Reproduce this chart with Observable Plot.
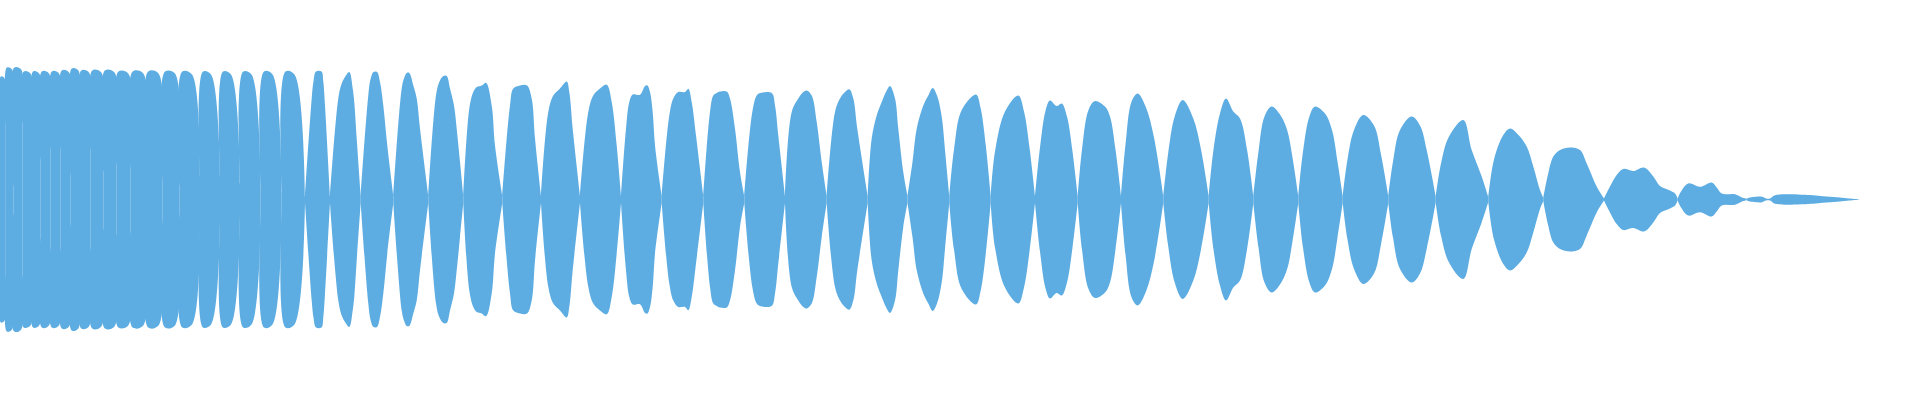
<!DOCTYPE html>
<html>
<head>
<meta charset="utf-8">
<script src="https://cdn.jsdelivr.net/npm/d3@7"></script>
<script src="https://cdn.jsdelivr.net/npm/@observablehq/plot@0.6"></script>
<style>
  html, body { margin: 0; padding: 0; background: #ffffff; }
  #chart svg { display: block; }
</style>
</head>
<body>
<div id="chart"></div>
<script>
// Positions (time axis) of the pinch points between lobes and the envelope amplitude there
const gapX = [0, 5.8, 13.3, 22.7, 32, 40.7, 50.7, 60.7, 70.7, 80,
  90.7, 103.3, 116.7, 130.7, 146, 162.7, 179.3, 200, 220, 240,
  260.7, 281.7, 305, 330, 360.7, 393.3, 428.3, 463.3, 502.3, 541,
  580, 621, 661.7, 703.3, 744.3, 785, 826.7, 867.7, 907.5, 949.3,
  990.7, 1035, 1077.7, 1121, 1163.3, 1208.7, 1253.3, 1298.3, 1342.7, 1388.3,
  1435.7, 1488.3, 1543.3, 1604, 1677.7, 1746.5, 1859];
const gapAmp = [20, 75, 13, 75, 62, 38, 48, 48, 23, 65,
  48, 28, 33, 31, 19, 19, 14, 18, 24, 16,
  11, 7, 3, 3.5, 3.5, 3.5, 3.5, 3.5, 3.5, 3.5,
  3.5, 3.5, 3.5, 3.5, 3.5, 3.5, 3.5, 3.5, 3.5, 3.5,
  3.5, 3.5, 3.5, 3.5, 3.5, 3.5, 3.5, 3.5, 3.5, 3.5,
  3, 2.5, 1.5, 1, 1, 0.8, 0.3];

// Envelope points inside the lobes: [time, amplitude]
const lobePoints = [
  [0.8, 123], [4.6, 121], [6.8, 132], [12, 130], [14.3, 132], [21.2, 130],
  [23.7, 128], [30.5, 126], [33, 128], [39.2, 126], [41.8, 128], [49, 126],
  [51.8, 128], [59, 126], [61.8, 129], [69, 127], [71.8, 131], [78.4, 129],
  [81.2, 129], [89, 127], [92.2, 129], [101.3, 127], [104.9, 129], [114.5, 127],
  [118.4, 128], [128.3, 126], [132.7, 128], [143.3, 126], [148.2, 128], [158.5, 126],
  [165, 128], [175, 126], [182.3, 128], [192, 125], [203, 128], [211, 125],
  [223, 128], [231, 125], [243.2, 128], [251.5, 125], [264, 128], [272.5, 125],
  [285.5, 128], [294.5, 125],
  [311.7, 101], [313.5, 118], [316, 128], [321.5, 128], [323.3, 118], [325, 94],
  [338.3, 101], [341.7, 116], [345, 122.5], [349.3, 127.5], [352.7, 111], [354.3, 97], [356.7, 61],
  [368.3, 104], [370.7, 121], [373.5, 127.5], [377, 127.5], [380, 117.5], [383.3, 94], [387.3, 54],
  [401.7, 111], [404, 121], [406.7, 126.5], [409.3, 126.5], [413.3, 114], [416.7, 101], [420, 70.8],
  [436, 104], [439.3, 117.5], [443.3, 123.5], [446.7, 123.5], [450, 111], [454, 94], [456.7, 70.8], [460, 37.5],
  [469.3, 91], [473.3, 107.5], [476.7, 112.5], [481.7, 114], [486, 116.8], [491.7, 94], [495, 54],
  [510, 94], [513.3, 111], [520, 114], [527, 114], [531.7, 101], [535, 61],
  [548.3, 87.5], [553.3, 104], [560, 111], [566.7, 118], [569.3, 107.5], [572.7, 70.8],
  [588.3, 87.5], [593.3, 104], [600, 111], [606.7, 114.8], [611.7, 97.5], [616.7, 54],
  [626, 70.8], [629.3, 97.5], [632.7, 105], [640, 104.8], [645, 113.5], [647.3, 114.2], [650, 107.5], [652.7, 87.5], [655, 54],
  [669.3, 84], [673.3, 101], [678.3, 107.5], [685, 107.5], [688.3, 110.8], [691.7, 97.5], [696, 64],
  [710, 87.5], [713.3, 104], [716.7, 106.5], [720, 108], [726.7, 108], [730, 101], [735, 70.8], [740, 27.5],
  [752.3, 87.5], [756.7, 104], [760, 106.5], [771.7, 106.5], [775, 94], [778.3, 64],
  [791.7, 87.5], [798.3, 101], [803.3, 107.5], [806.7, 109], [811.7, 104], [816.7, 77.5], [821.7, 37.5],
  [835, 87.5], [840, 101], [845, 107.5], [849.3, 110.2], [853.3, 101], [857.3, 70.8],
  [871.7, 61], [876.7, 84], [881.7, 97.5], [886.7, 109], [890, 113.5], [895, 101], [898.3, 70.8], [903.3, 27.5],
  [912.5, 37.5], [916.7, 70.8], [923.3, 94], [928.3, 104], [932.7, 111.5], [937, 104], [941.7, 83], [945, 49.5],
  [954, 50], [961.7, 89.5], [976, 105], [980.5, 92], [985.7, 55],
  [995, 48], [1005, 88], [1018.3, 104], [1024, 88], [1029.5, 52],
  [1040, 52], [1045.7, 89.5], [1050, 99], [1056.7, 93.5], [1061.7, 96], [1067, 83], [1072.5, 48],
  [1082, 50], [1088.5, 89.5], [1095, 98.5], [1105, 93], [1110, 83], [1115.5, 50],
  [1125.5, 55], [1131.6, 98], [1137.7, 106], [1146, 92], [1154, 62],
  [1168, 45], [1174.7, 83], [1182.7, 99.5], [1193.3, 81], [1201, 50],
  [1213.5, 50], [1220, 86], [1226, 101], [1233.3, 88], [1240, 81], [1247, 50],
  [1258.5, 48], [1264.5, 83], [1271.7, 93], [1280, 85], [1287, 70], [1292.5, 42],
  [1303, 48], [1309.4, 83], [1315, 93], [1325, 86], [1332, 69.5], [1337.5, 38],
  [1347.5, 40], [1354, 69.5], [1363.3, 84.5], [1374, 74], [1381, 45],
  [1393, 38], [1400, 69.5], [1411.7, 83], [1420, 74], [1427, 48],
  [1441, 36], [1449, 63], [1463.3, 79.5], [1471.7, 49.5], [1481.7, 23],
  [1494, 40], [1503.3, 64.5], [1510, 71], [1518, 65], [1526.7, 53], [1533.3, 33], [1540, 9.5],
  [1548, 25], [1553.3, 43], [1560, 49.5], [1570, 52], [1580, 49.5], [1586.7, 36], [1596.7, 13],
  [1616.7, 24.5], [1623.3, 30.5], [1633.3, 28.5], [1644, 32], [1653.3, 23], [1660, 13.5], [1670, 9], [1675, 6],
  [1681, 8], [1688.3, 16], [1700, 12.7], [1711.7, 17], [1716.7, 12], [1721.7, 6], [1735, 5.3], [1742, 2],
  [1750, 2], [1756, 2.7], [1762, 2.7], [1766, 1], [1770, 1], [1775, 4.3], [1813, 4.3], [1823, 3.3], [1837, 2.3], [1847, 1.3]
];

// Build one series per lobe, from pinch to pinch
const rows = [];
for (let i = 0; i < gapX.length - 1; i++) {
  rows.push({lobe: i, t: gapX[i], amp: gapAmp[i]});
  for (const [t, a] of lobePoints) {
    if (t > gapX[i] && t < gapX[i + 1]) rows.push({lobe: i, t, amp: a});
  }
  rows.push({lobe: i, t: gapX[i + 1], amp: gapAmp[i + 1]});
}

const chart = Plot.plot({
  width: 1920,
  height: 400,
  margin: 0,
  x: {domain: [0, 1920], axis: null},
  y: {domain: [-200.5, 199.5], axis: null},
  marks: [
    Plot.areaY(rows, {
      x: "t",
      y1: d => -d.amp,
      y2: d => d.amp,
      z: "lobe",
      fill: "#5DADE2",
      curve: "catmull-rom"
    })
  ]
});
document.getElementById("chart").appendChild(chart);
</script>
</body>
</html>
